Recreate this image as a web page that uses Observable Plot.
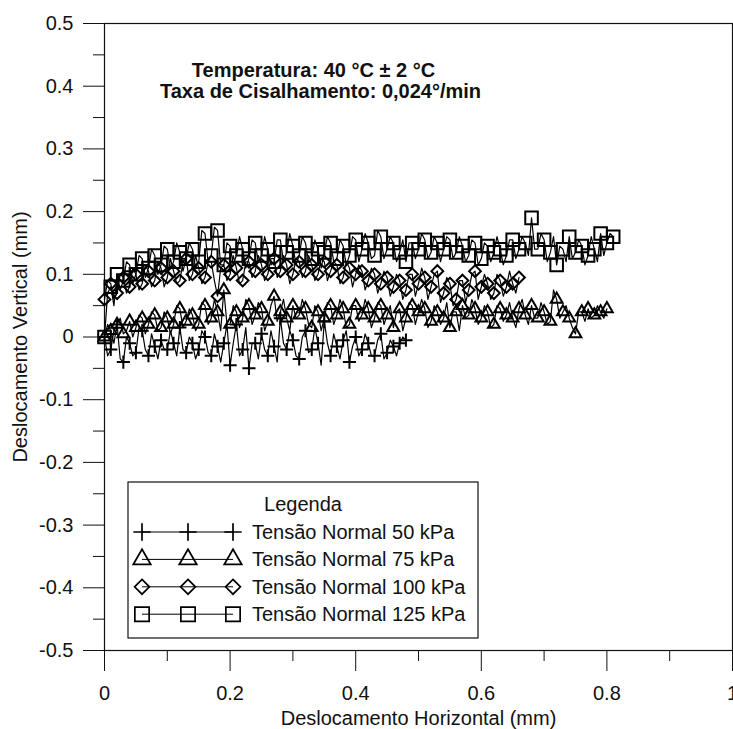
<!DOCTYPE html>
<html><head><meta charset="utf-8">
<script src="https://cdn.jsdelivr.net/npm/d3@7"></script>
<script src="https://cdn.jsdelivr.net/npm/@observablehq/plot@0.6"></script>
<style>
html,body{margin:0;padding:0;background:#fff;}
#chart{width:733px;height:729px;}
</style></head><body><div id="chart"></div>
<script>
// ---- data ----
const xs = [0,0.005,0.01,0.015,0.02,0.025,0.03,0.035,0.04,0.045,
  0.05,0.055,0.06,0.065,0.07,0.075,0.08,0.085,0.09,0.095,
  0.1,0.105,0.11,0.115,0.12,0.125,0.13,0.135,0.14,0.145,
  0.15,0.155,0.16,0.165,0.17,0.175,0.18,0.185,0.19,0.195,
  0.2,0.205,0.21,0.215,0.22,0.225,0.23,0.235,0.24,0.245,
  0.25,0.255,0.26,0.265,0.27,0.275,0.28,0.285,0.29,0.295,
  0.3,0.305,0.31,0.315,0.32,0.325,0.33,0.335,0.34,0.345,
  0.35,0.355,0.36,0.365,0.37,0.375,0.38,0.385,0.39,0.395,
  0.4,0.405,0.41,0.415,0.42,0.425,0.43,0.435,0.44,0.445,
  0.45,0.455,0.46,0.465,0.47,0.475,0.48,0.485,0.49,0.495,
  0.5,0.505,0.51,0.515,0.52,0.525,0.53,0.535,0.54,0.545,
  0.55,0.555,0.56,0.565,0.57,0.575,0.58,0.585,0.59,0.595,
  0.6,0.605,0.61,0.615,0.62,0.625,0.63,0.635,0.64,0.645,
  0.65,0.655,0.66,0.665,0.67,0.675,0.68,0.685,0.69,0.695,
  0.7,0.705,0.71,0.715,0.72,0.725,0.73,0.735,0.74,0.745,
  0.75,0.755,0.76,0.765,0.77,0.775,0.78,0.785,0.79,0.795,
  0.8,0.805,0.81];

const y50 = [0,-0.03,-0.02,0.01,0.02,-0.035,-0.04,0.0,-0.01,-0.03,
  -0.025,0.015,0.01,-0.02,-0.03,0.005,-0.015,-0.035,-0.005,-0.02,
  -0.02,0.01,-0.01,-0.03,0.015,-0.02,-0.025,0.0,-0.01,-0.035,
  -0.02,0.01,0.0,-0.025,-0.03,0.005,-0.015,-0.04,-0.01,0.02,
  -0.045,-0.01,0.02,-0.03,-0.02,0.015,-0.05,-0.01,-0.01,-0.035,
  0.005,-0.02,-0.03,0.01,-0.015,-0.04,0.03,-0.01,-0.02,0.01,
  -0.005,-0.03,-0.035,0.0,0.01,-0.025,-0.02,0.015,-0.01,-0.045,
  0.025,-0.01,-0.03,0.005,-0.015,-0.035,-0.005,0.01,-0.04,-0.015,
  0.0,-0.03,-0.02,0.005,-0.01,-0.03,-0.03,-0.005,0.005,-0.035,
  -0.025,-0.005,-0.015,-0.03,-0.01,0.0,-0.005];

const y75 = [0.0,0.02,0.01,-0.01,0.02,0.03,0.005,0.01,0.025,0.0,
  0.015,0.035,0.03,0.005,0.02,0.04,0.035,0.01,0.015,0.04,
  0.03,0.005,0.02,0.05,0.045,0.015,0.025,0.045,0.035,0.01,
  0.02,0.055,0.05,0.02,0.03,0.06,0.04,0.01,0.075,0.02,
  0.02,0.05,0.04,0.015,0.03,0.06,0.05,0.02,0.035,0.055,
  0.045,0.01,0.025,0.05,0.065,0.025,0.04,0.06,0.03,0.01,
  0.05,0.03,0.035,0.06,0.045,0.02,0.015,0.05,0.04,0.01,
  0.03,0.055,0.05,0.02,0.035,0.06,0.045,0.015,0.02,0.05,
  0.05,0.025,0.035,0.06,0.045,0.015,0.03,0.055,0.05,0.02,
  0.035,0.05,0.015,0.04,0.045,0.01,0.03,0.055,0.05,0.02,
  0.04,0.06,0.045,0.015,0.025,0.05,0.04,0.02,0.03,0.055,
  0.015,0.04,0.04,0.01,0.05,0.03,0.035,0.06,0.045,0.02,
  0.03,0.05,0.04,0.015,0.02,0.05,0.045,0.025,0.035,0.055,
  0.03,0.015,0.045,0.06,0.035,0.02,0.05,0.03,0.03,0.055,
  0.04,0.02,0.025,0.075,0.06,0.03,0.04,0.05,0.03,0.015,
  0.005,0.04,0.04,0.025,0.045,0.03,0.035,0.05,0.04,0.03,
  0.045];

const y100 = [0.06,0.09,0.085,0.06,0.07,0.1,0.095,0.07,0.08,0.11,
  0.1,0.075,0.085,0.115,0.105,0.08,0.09,0.12,0.11,0.08,
  0.095,0.125,0.105,0.085,0.09,0.12,0.125,0.09,0.1,0.13,
  0.11,0.085,0.095,0.12,0.12,0.09,0.065,0.11,0.115,0.09,
  0.1,0.13,0.11,0.085,0.09,0.12,0.12,0.095,0.105,0.13,
  0.115,0.09,0.1,0.125,0.125,0.095,0.105,0.13,0.115,0.085,
  0.1,0.125,0.12,0.095,0.105,0.13,0.115,0.09,0.1,0.125,
  0.12,0.09,0.105,0.12,0.115,0.085,0.095,0.12,0.11,0.08,
  0.1,0.115,0.105,0.075,0.09,0.11,0.1,0.07,0.085,0.105,
  0.095,0.065,0.08,0.1,0.09,0.06,0.075,0.1,0.1,0.065,
  0.085,0.11,0.095,0.06,0.08,0.1,0.105,0.055,0.07,0.095,
  0.085,0.05,0.06,0.09,0.09,0.055,0.075,0.1,0.105,0.06,
  0.08,0.1,0.085,0.06,0.07,0.1,0.09,0.065,0.08,0.105,
  0.085,0.07,0.095];

const y125 = [0.0,0.07,0.08,0.05,0.1,0.075,0.09,0.12,0.115,0.085,
  0.1,0.13,0.125,0.095,0.11,0.14,0.13,0.1,0.115,0.145,
  0.14,0.11,0.12,0.15,0.135,0.105,0.125,0.15,0.14,0.11,
  0.12,0.17,0.165,0.12,0.13,0.175,0.17,0.115,0.115,0.15,
  0.145,0.115,0.13,0.16,0.14,0.11,0.125,0.155,0.15,0.12,
  0.13,0.16,0.14,0.115,0.12,0.155,0.155,0.12,0.135,0.165,
  0.145,0.115,0.13,0.16,0.15,0.12,0.125,0.155,0.14,0.11,
  0.135,0.16,0.15,0.12,0.125,0.155,0.145,0.115,0.13,0.16,
  0.155,0.12,0.14,0.165,0.15,0.125,0.13,0.17,0.16,0.125,
  0.14,0.16,0.15,0.12,0.135,0.155,0.12,0.15,0.15,0.125,
  0.14,0.165,0.155,0.125,0.135,0.16,0.15,0.12,0.14,0.16,
  0.155,0.125,0.135,0.16,0.145,0.12,0.13,0.155,0.15,0.115,
  0.125,0.15,0.145,0.12,0.135,0.16,0.14,0.115,0.13,0.155,
  0.155,0.125,0.14,0.16,0.15,0.13,0.19,0.14,0.14,0.165,
  0.155,0.12,0.135,0.16,0.115,0.145,0.14,0.12,0.16,0.125,
  0.135,0.155,0.145,0.115,0.13,0.16,0.14,0.12,0.165,0.13,
  0.15,0.165,0.16];

const seriesNames = ["Tensão Normal 50 kPa","Tensão Normal 75 kPa","Tensão Normal 100 kPa","Tensão Normal 125 kPa"];
const legendTitle = "Legenda";
const titleLines = ["Temperatura: 40 °C ± 2 °C","Taxa de Cisalhamento: 0,024°/min"];
const xLabel = "Deslocamento Horizontal (mm)";
const yLabel = "Deslocamento Vertical (mm)";

const xTicks = [0,0.2,0.4,0.6,0.8,1];
const xTickLabels = ["0","0.2","0.4","0.6","0.8","1"];
const xMinor = [0.1,0.3,0.5,0.7,0.9];
const yTicks = [-0.5,-0.4,-0.3,-0.2,-0.1,0,0.1,0.2,0.3,0.4,0.5];
const yTickLabels = ["-0.5","-0.4","-0.3","-0.2","-0.1","0","0.1","0.2","0.3","0.4","0.5"];
const yMinor = [-0.45,-0.35,-0.25,-0.15,-0.05,0.05,0.15,0.25,0.35,0.45];

// ---- styles ----
const FONT = '"Liberation Sans", Arial, Helvetica, sans-serif';
const INK = "#111";
const symbols = ["plus","triangle2","diamond2","square2"];
const d3symbols = [d3.symbolPlus, d3.symbolTriangle2, d3.symbolDiamond2, d3.symbolSquare2];
const plotR = [4.3, 5.6, 5.3, 8.0];
const legendSize = [100, 220, 140, 260];

const build = (ys) => ys.map((y, i) => ({x: xs[i], y}));
const seriesData = [build(y50), build(y75), build(y100), build(y125)];

const marks = [
  Plot.axisY({ticks: yMinor, tickSize: 11, tickFormat: () => "", label: null}),
  Plot.axisX({ticks: xMinor, tickSize: 11, tickFormat: () => "", label: null}),
  Plot.axisY({ticks: yTicks, tickSize: 21, tickPadding: 10, fontSize: 20,
    tickFormat: d => yTickLabels[yTicks.indexOf(d)], label: null}),
  Plot.axisX({ticks: xTicks, tickSize: 21, tickPadding: 14, fontSize: 20,
    tickFormat: d => xTickLabels[xTicks.indexOf(d)], label: null}),
  Plot.frame({stroke: INK, strokeWidth: 1.2}),
];
seriesData.forEach((data) => {
  marks.push(Plot.line(data, {x: "x", y: "y", stroke: "#000", strokeWidth: 1.2}));
});
seriesData.forEach((data, k) => {
  marks.push(Plot.dot(data, {x: "x", y: "y", symbol: symbols[k], r: plotR[k],
    stroke: "#000", strokeWidth: 2, fill: "none", filter: (d, i) => i % 2 === 0}));
});
marks.push(
  Plot.text([titleLines[0]], {frameAnchor: "top-left", dx: 209, dy: 47, text: d => d,
    fontWeight: "bold", fontSize: 20, textAnchor: "middle", lineAnchor: "middle", fill: INK}),
  Plot.text([titleLines[1]], {frameAnchor: "top-left", dx: 216, dy: 68, text: d => d,
    fontWeight: "bold", fontSize: 20, textAnchor: "middle", lineAnchor: "middle", fill: INK}),
  Plot.text([xLabel], {frameAnchor: "bottom", dy: 68, text: d => d, fontSize: 20,
    lineAnchor: "middle", fill: INK}),
  Plot.text([yLabel], {frameAnchor: "left", dx: -84, rotate: -90, text: d => d, fontSize: 20,
    lineAnchor: "middle", textAnchor: "middle", fill: INK})
);

const chart = Plot.plot({
  width: 733, height: 729,
  marginLeft: 104, marginRight: 1, marginTop: 23, marginBottom: 79,
  x: {domain: [0, 1]},
  y: {domain: [-0.5, 0.5]},
  style: {fontFamily: FONT, fontSize: "20px", color: INK, background: "white"},
  marks
});

// ---- legend box (inside the plot area) ----
const svg = d3.select(chart);
const lg = svg.append("g").attr("font-family", FONT).attr("font-size", 20).attr("fill", INK)
  .attr("text-anchor", "start");
const box = {x: 128, y: 482, w: 350, h: 156};
lg.append("rect").attr("x", box.x).attr("y", box.y).attr("width", box.w).attr("height", box.h)
  .attr("fill", "white").attr("stroke", INK).attr("stroke-width", 1.2);
lg.append("text").attr("x", 303).attr("y", 504).attr("dy", "0.35em").attr("text-anchor", "middle").text(legendTitle);
const symX = [142, 188, 233];
seriesNames.forEach((name, k) => {
  const cy = 532 + k * 27.4;
  lg.append("line").attr("x1", symX[0]).attr("x2", symX[2]).attr("y1", cy).attr("y2", cy)
    .attr("stroke", "#000").attr("stroke-width", 1);
  symX.forEach(sx => {
    lg.append("path").attr("d", d3.symbol().type(d3symbols[k]).size(legendSize[k])())
      .attr("transform", `translate(${sx},${cy})`)
      .attr("fill", "none").attr("stroke", "#000").attr("stroke-width", 1.7);
  });
  lg.append("text").attr("x", 252).attr("y", cy).attr("dy", "0.35em")
    .attr("text-anchor", "start").text(name);
});

document.getElementById("chart").appendChild(chart);
</script>
</body></html>
